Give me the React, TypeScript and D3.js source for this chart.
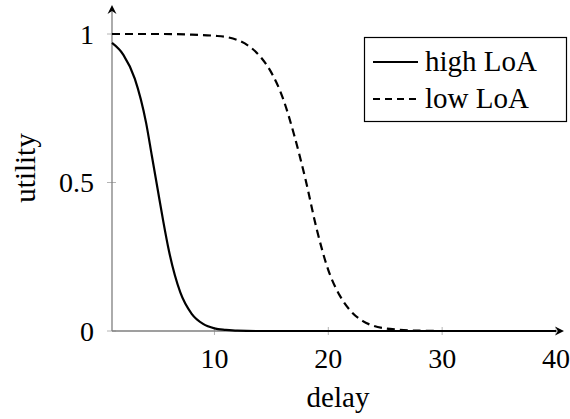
import React, { useRef, useEffect } from 'react';
import * as d3 from 'd3';

// delay values sampled off the reference curves
const HIGH_DELAY = [1, 2, 3, 4, 4.5, 5, 5.5, 6, 7, 8, 9, 10, 11, 12, 14, 20, 30, 40];
const HIGH_UTILITY = [0.97, 0.93, 0.85, 0.7, 0.59, 0.48, 0.37, 0.27, 0.13, 0.058, 0.024, 0.009, 0.004, 0.001, 0, 0, 0, 0];

const LOW_DELAY = [1, 5, 8, 10, 11, 12, 13, 14, 15, 16, 17, 18, 19, 20, 21, 22, 23, 24, 25, 26, 28, 30, 40];
const LOW_UTILITY = [1, 1, 0.998, 0.994, 0.99, 0.98, 0.96, 0.925, 0.87, 0.785, 0.66, 0.51, 0.34, 0.205, 0.12, 0.066, 0.034, 0.017, 0.009, 0.005, 0.001, 0, 0];

const X_TICKS = [10, 20, 30, 40];
const Y_TICKS = [0, 0.5, 1];
const Y_TICK_LABELS = ['0', '0.5', '1'];

const SERIES_NAMES = ['high LoA', 'low LoA'];

const FONT = '"Times New Roman", "Liberation Serif", Tinos, "DejaVu Serif", "Noto Serif", FreeSerif, Times, serif';

interface Pt { x: number; y: number; }

const UtilityChart: React.FC = () => {
  const svgRef = useRef<SVGSVGElement | null>(null);

  useEffect(() => {
    if (!svgRef.current) return;
    const width = 570;
    const height = 419;

    d3.select(svgRef.current).selectAll('*').remove();
    const svg = d3.select(svgRef.current)
      .attr('width', width)
      .attr('height', height)
      .attr('font-family', FONT);

    // x=1 sits on the y axis, x=40 on the last tick
    const xScale = d3.scaleLinear().domain([1, 40]).range([112, 556]);
    const yScale = d3.scaleLinear().domain([0, 1]).range([331, 34]);

    const axisColor = '#7f7f7f';
    const tickColor = '#b4b4b4';

    // tick marks
    svg.append('g')
      .selectAll('line')
      .data(X_TICKS)
      .enter()
      .append('line')
      .attr('x1', d => xScale(d))
      .attr('x2', d => xScale(d))
      .attr('y1', yScale(0) - 4)
      .attr('y2', yScale(0) + 4)
      .attr('stroke', tickColor)
      .attr('stroke-width', 1);

    svg.append('g')
      .selectAll('line')
      .data(Y_TICKS)
      .enter()
      .append('line')
      .attr('x1', xScale(1) - 5)
      .attr('x2', xScale(1) + 4)
      .attr('y1', d => yScale(d))
      .attr('y2', d => yScale(d))
      .attr('stroke', tickColor)
      .attr('stroke-width', 1);

    // axis lines
    const x0 = xScale(1);
    const y0 = yScale(0);
    const xEnd = xScale(40) + 8;
    const yEnd = yScale(1) - 29;

    svg.append('line')
      .attr('x1', x0).attr('x2', xEnd - 3)
      .attr('y1', y0).attr('y2', y0)
      .attr('stroke', axisColor)
      .attr('stroke-width', 1.3);

    svg.append('line')
      .attr('x1', x0).attr('x2', x0)
      .attr('y1', y0).attr('y2', yEnd + 3)
      .attr('stroke', axisColor)
      .attr('stroke-width', 1.3);

    // arrow heads
    svg.append('path')
      .attr('d', `M${xEnd},${y0} L${xEnd - 9},${y0 - 4.5} L${xEnd - 6},${y0} L${xEnd - 9},${y0 + 4.5} Z`)
      .attr('fill', '#000');
    svg.append('path')
      .attr('d', `M${x0},${yEnd} L${x0 - 4.5},${yEnd + 9} L${x0},${yEnd + 6} L${x0 + 4.5},${yEnd + 9} Z`)
      .attr('fill', '#000');

    // tick labels
    svg.append('g')
      .selectAll('text')
      .data(X_TICKS)
      .enter()
      .append('text')
      .attr('x', d => xScale(d))
      .attr('y', 368)
      .attr('text-anchor', 'middle')
      .attr('font-family', FONT)
      .attr('font-size', 28)
      .attr('fill', '#000')
      .text(d => String(d));

    svg.append('g')
      .selectAll('text')
      .data(Y_TICKS)
      .enter()
      .append('text')
      .attr('x', 94)
      .attr('y', d => yScale(d) + 9.5)
      .attr('text-anchor', 'end')
      .attr('font-family', FONT)
      .attr('font-size', 28)
      .attr('fill', '#000')
      .text((_, i) => Y_TICK_LABELS[i]);

    // axis titles
    svg.append('text')
      .attr('x', (x0 + xEnd) / 2)
      .attr('y', 407)
      .attr('text-anchor', 'middle')
      .attr('font-family', FONT)
      .attr('font-size', 29)
      .attr('fill', '#000')
      .text('delay');

    svg.append('text')
      .attr('transform', `translate(35,${(y0 + yEnd) / 2}) rotate(-90)`)
      .attr('text-anchor', 'middle')
      .attr('font-family', FONT)
      .attr('font-size', 29)
      .attr('fill', '#000')
      .text('utility');

    // curves
    const line = d3.line<Pt>()
      .x(d => xScale(d.x))
      .y(d => yScale(d.y))
      .curve(d3.curveMonotoneX);

    const highData: Pt[] = HIGH_DELAY.map((x, i) => ({ x, y: HIGH_UTILITY[i] }));
    const lowData: Pt[] = LOW_DELAY.map((x, i) => ({ x, y: LOW_UTILITY[i] }));

    svg.append('path')
      .datum(lowData)
      .attr('fill', 'none')
      .attr('stroke', '#000')
      .attr('stroke-width', 2.2)
      .attr('stroke-dasharray', '8,5')
      .attr('d', line);

    svg.append('path')
      .datum(highData)
      .attr('fill', 'none')
      .attr('stroke', '#000')
      .attr('stroke-width', 2.2)
      .attr('d', line);

    // legend
    const legend = svg.append('g');
    legend.append('rect')
      .attr('x', 364.5)
      .attr('y', 37.5)
      .attr('width', 202)
      .attr('height', 84)
      .attr('fill', '#fff')
      .attr('stroke', '#000')
      .attr('stroke-width', 1.2);

    SERIES_NAMES.forEach((name, i) => {
      const ly = 62 + i * 37;
      legend.append('line')
        .attr('x1', 373)
        .attr('x2', 418)
        .attr('y1', ly)
        .attr('y2', ly)
        .attr('stroke', '#000')
        .attr('stroke-width', 2.2)
        .attr('stroke-dasharray', i === 1 ? '7,5' : null);
      legend.append('text')
        .attr('x', 425)
        .attr('y', ly + 9)
        .attr('font-family', FONT)
        .attr('font-size', 29)
        .attr('fill', '#000')
        .text(name);
    });
  }, []);

  return <svg ref={svgRef} style={{ position: 'absolute', left: 0, top: 0 }} />;
};

export default function App() {
  return <UtilityChart />;
}
